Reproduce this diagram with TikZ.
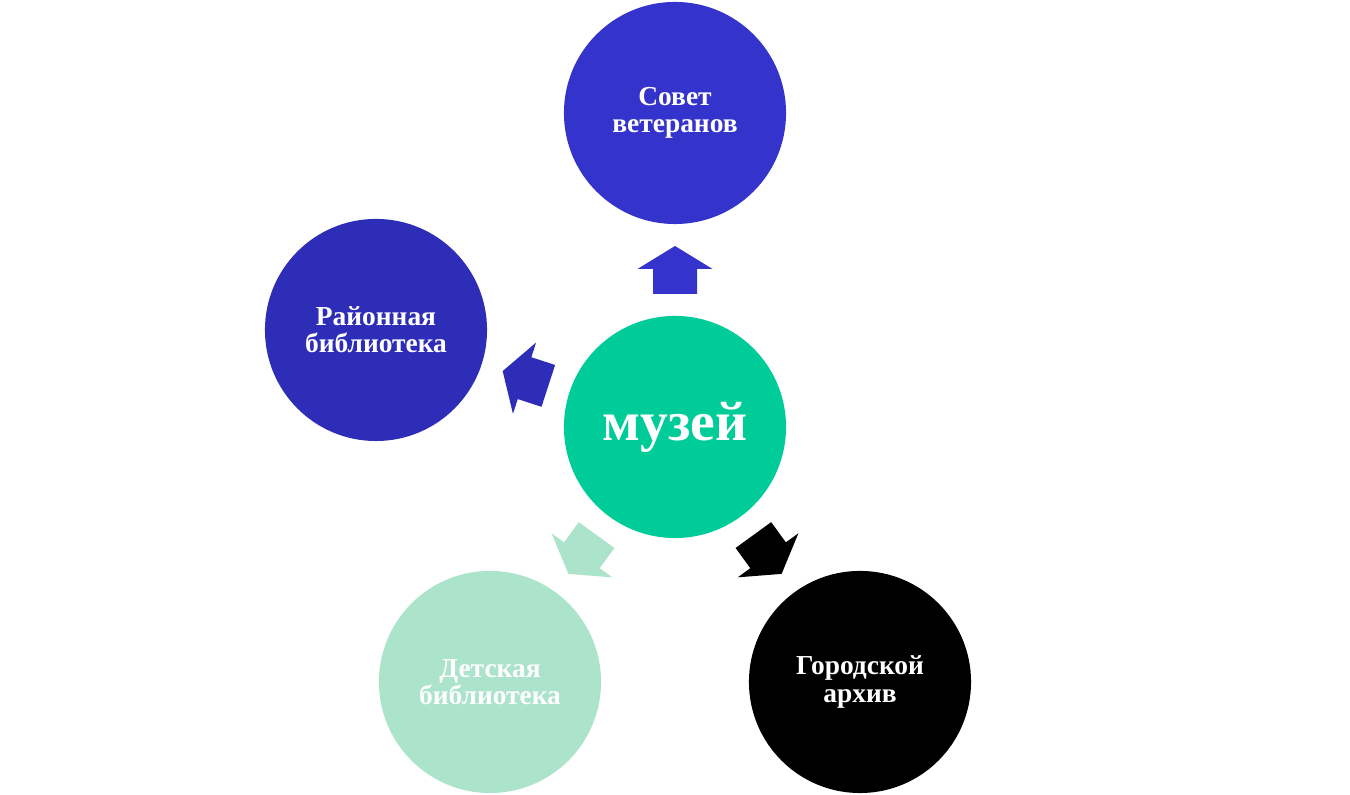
\documentclass[tikz,border=0pt]{standalone}
\usepackage{fontspec}
\setmainfont{Liberation Serif}
\usetikzlibrary{calc}
\definecolor{sovet}{HTML}{3433CC}
\definecolor{rayon}{HTML}{2E2DB8}
\definecolor{muzey}{HTML}{00CC99}
\definecolor{detsk}{HTML}{ACE3CB}
\tikzset{
  krug/.style={circle, minimum size=2.22cm, inner sep=0pt, text=white,
    align=center, font=\bfseries\fontsize{7.8}{7.7}\selectfont},
  strelka/.pic={\fill (-24,-22) -- (1,-22) -- (1,-37.5) -- (24,0)
    -- (1,37.5) -- (1,22) -- (-24,22) -- cycle;}
}
\begin{document}
\begin{tikzpicture}[x=0.01cm,y=0.01cm]
\useasboundingbox (0,0) rectangle (1350,795);
%					Les cercles :
\node[krug, fill=muzey, font=\bfseries\fontsize{15.8}{16}\selectfont] (muzey) at (675,368) {музей};
\node[krug, fill=sovet] (sovet) at (675,682) {Совет\\ветеранов};
\node[krug, fill=rayon] (rayon) at (376,465) {Районная\\библиотека};
\node[krug, fill=detsk] (detsk) at (490,113) {Детская\\библиотека};
\node[krug, fill=black] (arhiv) at (860,113) {Городской\\архив};
%					Les flèches :
\pic[fill=sovet, rotate=90] at ($(muzey)!.5!(sovet)$) {strelka};
\pic[fill=rayon, rotate=162] at ($(muzey)!.5!(rayon)$) {strelka};
\pic[fill=detsk, rotate=234] at ($(muzey)!.5!(detsk)$) {strelka};
\pic[fill=black, rotate=306] at ($(muzey)!.5!(arhiv)$) {strelka};
\end{tikzpicture}
\end{document}
